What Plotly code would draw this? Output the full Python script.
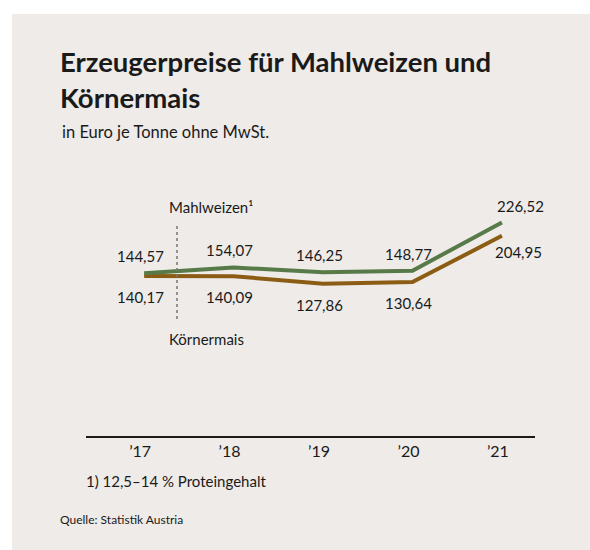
import plotly.graph_objects as go

years = [2017, 2018, 2019, 2020, 2021]
tick_labels = ["’17", "’18", "’19", "’20", "’21"]
mahlweizen = [144.57, 154.07, 146.25, 148.77, 226.52]
koernermais = [140.17, 140.09, 127.86, 130.64, 204.95]

GREEN = "#577a48"
BROWN = "#8b5c14"
BG = "#eeebe8"
TXT = "#1a1a1a"
FONT = "Lato"

W, H = 590, 550
L, R, T, B = 86, 55, 150, 114
PW, PH = W - L - R, H - T - B


def px(x):
    return (x - L) / PW


def py(y):
    return (H - B - y) / PH


def fmt(v):
    return f"{v:.2f}".replace(".", ",")


fig = go.Figure()
fig.add_trace(go.Scatter(x=years, y=koernermais, mode="lines",
                         line=dict(color=BROWN, width=4), hoverinfo="skip"))
fig.add_trace(go.Scatter(x=years, y=mahlweizen, mode="lines",
                         line=dict(color=GREEN, width=4), hoverinfo="skip"))

ann = []
for i, (yr, g, b) in enumerate(zip(years, mahlweizen, koernermais)):
    last = i == len(years) - 1
    common = dict(x=yr, xref="x", yref="y", showarrow=False,
                  font=dict(family=FONT, size=15, color=TXT))
    if last:
        ann.append(dict(text=fmt(g), y=g, yshift=16, xanchor="left", xshift=-7, **common))
        ann.append(dict(text=fmt(b), y=b, yshift=-16, xanchor="left", xshift=-9, **common))
    else:
        ann.append(dict(text=fmt(g), y=g, yshift=17, xanchor="center", xshift=-4, **common))
        ann.append(dict(text=fmt(b), y=b, yshift=-21, xanchor="center", xshift=-4, **common))

# series labels
ann.append(dict(text="Mahlweizen¹", x=px(167), y=py(207), xref="paper", yref="paper",
                xanchor="left", yanchor="middle", showarrow=False,
                font=dict(family=FONT, size=15, color=TXT)))
ann.append(dict(text="Körnermais", x=px(167), y=py(339), xref="paper", yref="paper",
                xanchor="left", yanchor="middle", showarrow=False,
                font=dict(family=FONT, size=15, color=TXT)))
# subtitle
ann.append(dict(text="in Euro je Tonne ohne MwSt.", x=px(60), y=py(132), xref="paper", yref="paper",
                xanchor="left", yanchor="middle", showarrow=False,
                font=dict(family=FONT, size=16.5, color=TXT)))
# footnote & source
ann.append(dict(text="1) 12,5–14 % Proteingehalt", x=px(84), y=py(481), xref="paper", yref="paper",
                xanchor="left", yanchor="middle", showarrow=False,
                font=dict(family=FONT, size=15, color=TXT)))
ann.append(dict(text="Quelle: Statistik Austria", x=px(58), y=py(519), xref="paper", yref="paper",
                xanchor="left", yanchor="middle", showarrow=False,
                font=dict(family=FONT, size=12, color=TXT)))

shapes = [
    dict(type="rect", xref="paper", yref="paper", x0=px(12), x1=px(600), y0=py(14), y1=py(560),
         fillcolor=BG, line=dict(width=0), layer="below"),
    dict(type="line", xref="paper", yref="paper", x0=px(177), x1=px(177), y0=py(226), y1=py(322),
         line=dict(color="#777777", width=1.5, dash="dot")),
]

fig.update_layout(
    width=W, height=H,
    margin=dict(l=L, r=R, t=T, b=B),
    paper_bgcolor="white",
    plot_bgcolor="rgba(0,0,0,0)",
    showlegend=False,
    title=dict(text="<b>Erzeugerpreise für Mahlweizen und<br>Körnermais</b>",
               x=60 / W, xanchor="left", xref="container",
               y=1 - 72 / H, yanchor="middle", yref="container",
               font=dict(family=FONT, size=27.5, color=TXT)),
    annotations=ann,
    shapes=shapes,
    xaxis=dict(range=[2016.35, 2021.37], tickvals=years, ticktext=tick_labels,
               showgrid=False, zeroline=False, showline=True, linecolor=TXT, linewidth=1.5,
               ticks="", ticklabelshift=-4,
               tickfont=dict(family=FONT, size=16, color=TXT), fixedrange=True),
    yaxis=dict(range=[-117, 343], visible=False, fixedrange=True),
)

fig.write_html("out.html", config={"displayModeBar": False},
               post_script="document.body.style.margin='0';document.body.style.overflow='hidden';")
